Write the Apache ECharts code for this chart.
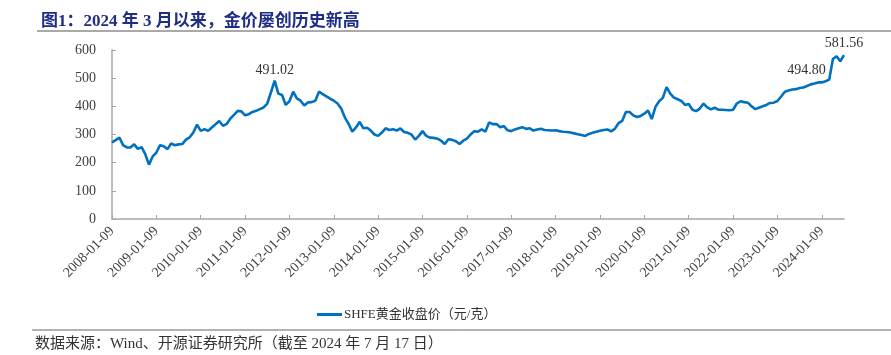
<!DOCTYPE html>
<html>
<head>
<meta charset="utf-8">
<script src="https://cdn.jsdelivr.net/npm/echarts@6/dist/echarts.min.js"></script>
<style>
html,body{margin:0;padding:0;background:#fff;}
#c{width:891px;height:355px;}
</style>
</head>
<body>
<div id="c"></div>
<script>
// Tick labels (one per year, first trading day label)
var tickLabels = ['2008-01-09','2009-01-09','2010-01-09','2011-01-09','2012-01-09','2013-01-09','2014-01-09','2015-01-09','2016-01-09','2017-01-09','2018-01-09','2019-01-09','2020-01-09','2021-01-09','2022-01-09','2023-01-09','2024-01-09'];

// Monthly SHFE gold close (yuan/gram), 2008-01 .. 2024-07
var prices = [
  272, 280, 289, 262, 254, 254, 265, 249, 255, 230, 193, 222,
  236, 262, 258, 248, 268, 262, 265, 266, 282, 290, 307, 335,
  313, 319, 313, 325, 336, 348, 331, 337, 356, 370, 384, 382,
  368, 372, 380, 384, 390, 396, 410, 450, 491.02, 445, 440, 405,
  418, 452, 428, 420, 403, 414, 415, 420, 452, 443, 435, 427,
  420, 410, 392, 360, 338, 310, 325, 345, 322, 324, 314, 300,
  295, 307, 322, 316, 319, 314, 322, 309, 306, 300, 282, 295,
  312, 295, 289, 288, 285, 278, 266, 283, 281, 276, 266, 278,
  285, 300, 312, 310, 318, 310, 343, 337, 337, 326, 330, 315,
  312, 318, 322, 326, 320, 322, 314, 318, 320, 316, 315, 314,
  315, 312, 310, 309, 307, 304, 301, 298, 295, 302, 306, 310,
  313, 316, 318, 311, 320, 340, 348, 380, 380, 368, 362, 366,
  374, 385, 355, 398, 418, 430, 468, 445, 431, 425, 419, 405,
  408, 388, 383, 392, 410, 396, 389, 395, 388, 388, 387, 386,
  388, 410, 418, 415, 413, 400, 390, 395, 400, 405, 412, 413,
  419, 435, 452, 456, 460, 461, 465, 467, 472, 478, 481, 485,
  485, 489, 494.80, 568, 578, 560, 581.56
];

// Indices of annotated points
var annotated = [44, 194, 198];

// Monthly category labels
var categories = [];
(function(){
  var idx = 0;
  for (var y = 2008; y <= 2024 && idx < prices.length; y++) {
    for (var m = 1; m <= 12 && idx < prices.length; m++) {
      var mm = m < 10 ? '0' + m : '' + m;
      categories.push(y + '-' + mm + '-09');
      idx++;
    }
  }
})();

var serif = '"Liberation Serif", "Times New Roman", "Noto Sans CJK SC", serif';
var showTick = function (i, v) { return tickLabels.indexOf(v) >= 0; };

var labelStyles = {
  44: { position: 'top', distance: 3 },
  194: { position: 'left', distance: 3, offset: [0, -9] },
  198: { position: 'top', distance: 4 }
};

var chart = echarts.init(document.getElementById('c'), null, { renderer: 'canvas' });
chart.setOption({
  animation: false,
  backgroundColor: '#ffffff',
  grid: { left: 112, right: 47, top: 50, bottom: 136, containLabel: false },
  title: {
    text: '图1：2024 年 3 月以来，金价屡创历史新高',
    left: 36, top: 8,
    textStyle: { fontFamily: serif, fontSize: 17, fontWeight: 'bold', color: '#1f2d86' }
  },
  graphic: [
    { type: 'line', shape: { x1: 37, y1: 31, x2: 891, y2: 31 }, style: { stroke: '#555555', lineWidth: 1 } },
    { type: 'line', shape: { x1: 32, y1: 330, x2: 891, y2: 330 }, style: { stroke: '#666666', lineWidth: 1 } },
    { type: 'text', left: 35, top: 337, style: {
        text: '数据来源：Wind、开源证券研究所（截至 2024 年 7 月 17 日）',
        font: '15px ' + serif, fill: '#333333' } }
  ],
  legend: {
    left: 312, top: 303,
    icon: 'rect', itemWidth: 25, itemHeight: 3, itemGap: 10,
    textStyle: { fontFamily: serif, fontSize: 13, color: '#333333', padding: [0, 0, 0, -3] },
    data: ['SHFE黄金收盘价（元/克）']
  },
  xAxis: {
    type: 'category',
    data: categories,
    boundaryGap: false,
    axisLine: { lineStyle: { color: '#a6a6a6', width: 1.5 } },
    axisTick: { show: true, inside: true, length: 4, interval: showTick, lineStyle: { color: '#a6a6a6' } },
    axisLabel: { interval: showTick, rotate: 45, margin: 10, fontFamily: serif, fontSize: 14, color: '#404040' },
    splitLine: { show: false }
  },
  yAxis: {
    type: 'value',
    min: 0, max: 600, interval: 100,
    axisLine: { show: true, lineStyle: { color: '#a6a6a6', width: 1.5 } },
    axisTick: { show: true, inside: true, length: 4, lineStyle: { color: '#a6a6a6' } },
    axisLabel: { margin: 16, fontFamily: serif, fontSize: 14, color: '#404040' },
    splitLine: { show: false }
  },
  series: [{
    name: 'SHFE黄金收盘价（元/克）',
    type: 'line',
    data: prices,
    symbol: 'none',
    lineStyle: { color: '#0070c0', width: 2.6 },
    itemStyle: { color: '#0070c0' },
    markPoint: {
      symbol: 'circle', symbolSize: 1,
      itemStyle: { color: 'rgba(0,0,0,0)' },
      data: annotated.map(function (i) {
        var s = labelStyles[i];
        return {
          coord: [i, prices[i]], value: prices[i],
          label: {
            show: true, position: s.position, distance: s.distance, offset: s.offset || [0, 0],
            formatter: function (p) { return Number(p.value).toFixed(2); },
            fontFamily: serif, fontSize: 14, color: '#333333'
          }
        };
      })
    }
  }]
});
</script>
</body>
</html>
